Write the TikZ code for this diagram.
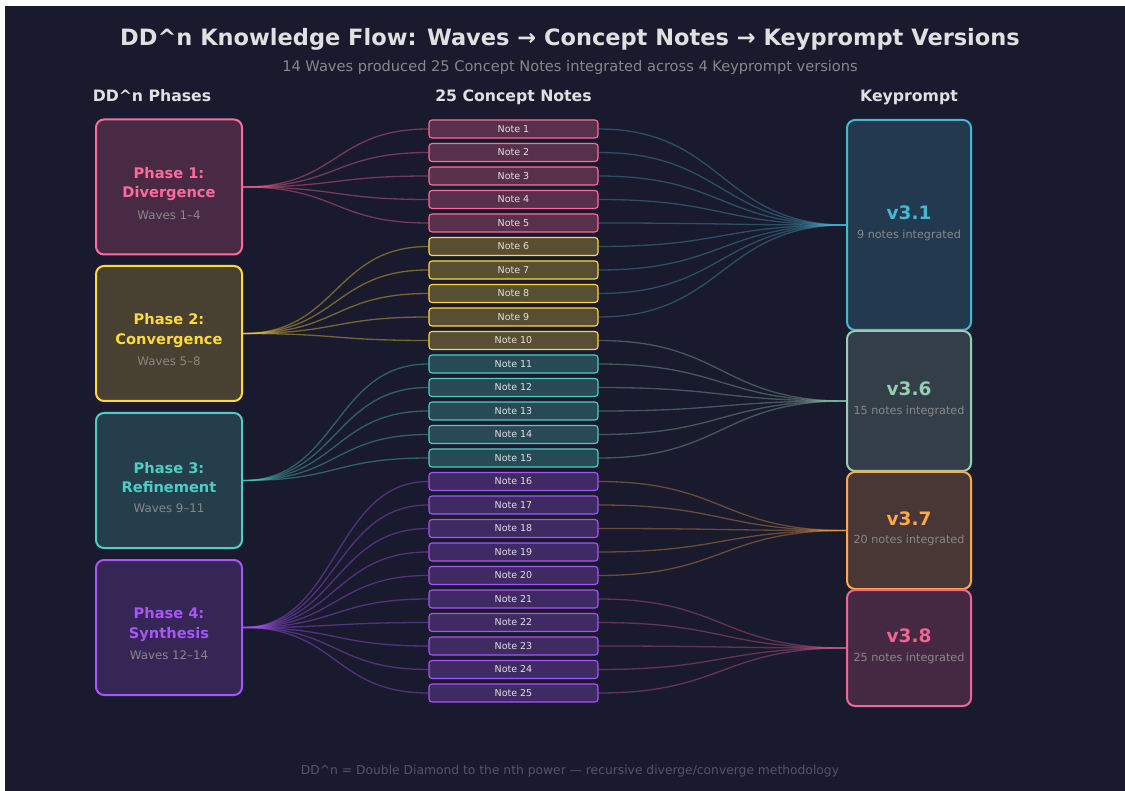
\documentclass[tikz,border=0pt]{standalone}
\usepackage{fontspec}
\setmainfont{DejaVu Sans}
\usetikzlibrary{calc}
\definecolor{FlowBg}{HTML}{1A1A2E}
\definecolor{FlowText}{HTML}{E0E0E0}
\definecolor{FlowMuted}{HTML}{888888}
\definecolor{FlowFaint}{HTML}{555566}
\definecolor{PhaseA}{HTML}{FF6B9D}
\definecolor{PhaseB}{HTML}{FFD93D}
\definecolor{PhaseC}{HTML}{4ECDC4}
\definecolor{PhaseD}{HTML}{A855F7}
\definecolor{KeyA}{HTML}{45B7D1}
\definecolor{KeyB}{HTML}{96CEB4}
\definecolor{KeyC}{HTML}{FFA94D}
\definecolor{KeyD}{HTML}{F06595}
\newcommand{\fs}[1]{\fontsize{#1pt}{\dimexpr #1pt*4/3\relax}\selectfont}

\begin{document}
\begin{tikzpicture}[x=1pt,y=-1pt,
  phasebox/.style={draw=#1,fill=#1!20!FlowBg,line width=2pt,rounded corners=8pt,
    minimum width=146pt,minimum height=135pt,inner sep=0pt},
  notebox/.style={draw=#1,fill=#1!27!FlowBg,line width=1.1pt,rounded corners=3pt,
    minimum width=169pt,minimum height=18pt,inner sep=0pt,text=FlowText,font=\fs{9.5}},
  keybox/.style={draw=#1,fill=#1!20!FlowBg,line width=2pt,rounded corners=8pt,
    minimum width=124pt,inner sep=0pt},
  flow/.style={draw=#1,opacity=0.4,line width=1.3pt}]
  \useasboundingbox (0,0) rectangle (1125,791);
  \fill[white] (0,0) rectangle (1125,791);
  \fill[FlowBg] (5,6) rectangle (1125,791);
  % titles
  \node[FlowText,font=\bfseries\fs{22.5},anchor=base] (title) at (570,46)
    {DD\^{}n Knowledge Flow: Waves → Concept Notes → Keyprompt Versions};
  \node[FlowMuted,font=\fs{14.6},anchor=base] (subtitle) at (570,72)
    {14 Waves produced 25 Concept Notes integrated across 4 Keyprompt versions};
  \node[FlowText,font=\bfseries\fs{15.7},anchor=base] (headphase) at (152,102) {DD\^{}n Phases};
  \node[FlowText,font=\bfseries\fs{15.7},anchor=base] (headnote) at (513.5,102) {25 Concept Notes};
  \node[FlowText,font=\bfseries\fs{15.7},anchor=base] (headkey) at (909,102) {Keyprompt};
  % phases
  \foreach \i/\c/\name/\waves/\y in {1/PhaseA/Divergence/1--4/187,
      2/PhaseB/Convergence/5--8/333.5, 3/PhaseC/Refinement/9--11/480.5,
      4/PhaseD/Synthesis/12--14/627.5} {
    \node[phasebox=\c] (ph\i) at (169,\y) {};
    \node[text=\c,font=\bfseries\fs{14.6},align=center] (ph\i-t) at (169,\y-3)
      {Phase \i:\\\name};
    \node[FlowMuted,font=\fs{11.8}] (ph\i-w) at (169,\y+28) {Waves \waves};
  }
  % notes
  \foreach \c/\a/\b in {PhaseA/1/5, PhaseB/6/10, PhaseC/11/15, PhaseD/16/25}
    \foreach \k in {\a,...,\b}
      \node[notebox=\c] (n\k) at (513.5,{129+(\k-1)*23.5}) {Note \k};
  % keyprompt versions
  \foreach \j/\c/\ver/\cnt/\top/\h in {1/KeyA/3.1/9/120/210, 2/KeyB/3.6/15/331/140,
      3/KeyC/3.7/20/472/117, 4/KeyD/3.8/25/590/116} {
    \node[keybox=\c,minimum height=\h pt] (v\j) at (909,{\top+\h/2}) {};
    \node[text=\c,font=\bfseries\fs{18.5}] (v\j-t) at ($(v\j.center)+(0,-12)$) {v\ver};
    \node[FlowMuted,font=\fs{11.2}] (v\j-c) at ($(v\j.center)+(0,10)$) {\cnt\ notes integrated};
  }
  % connectors
  \foreach \i/\c/\a/\b in {1/PhaseA/1/5, 2/PhaseB/6/10, 3/PhaseC/11/15, 4/PhaseD/16/25}
    \foreach \k in {\a,...,\b}
      \draw[flow=\c] (ph\i.east) .. controls +(95,0) and +(-95,0) .. (n\k.west);
  \foreach \j/\c/\a/\b in {1/KeyA/1/9, 2/KeyB/10/15, 3/KeyC/16/20, 4/KeyD/21/25}
    \foreach \k in {\a,...,\b}
      \draw[flow=\c,opacity=0.35] (n\k.east) .. controls +(125,0) and +(-125,0) .. (v\j.west);
  \node[FlowFaint,font=\fs{12.3}] (footer) at (570,771)
    {DD\^{}n = Double Diamond to the nth power — recursive diverge/converge methodology};
\end{tikzpicture}
\end{document}
